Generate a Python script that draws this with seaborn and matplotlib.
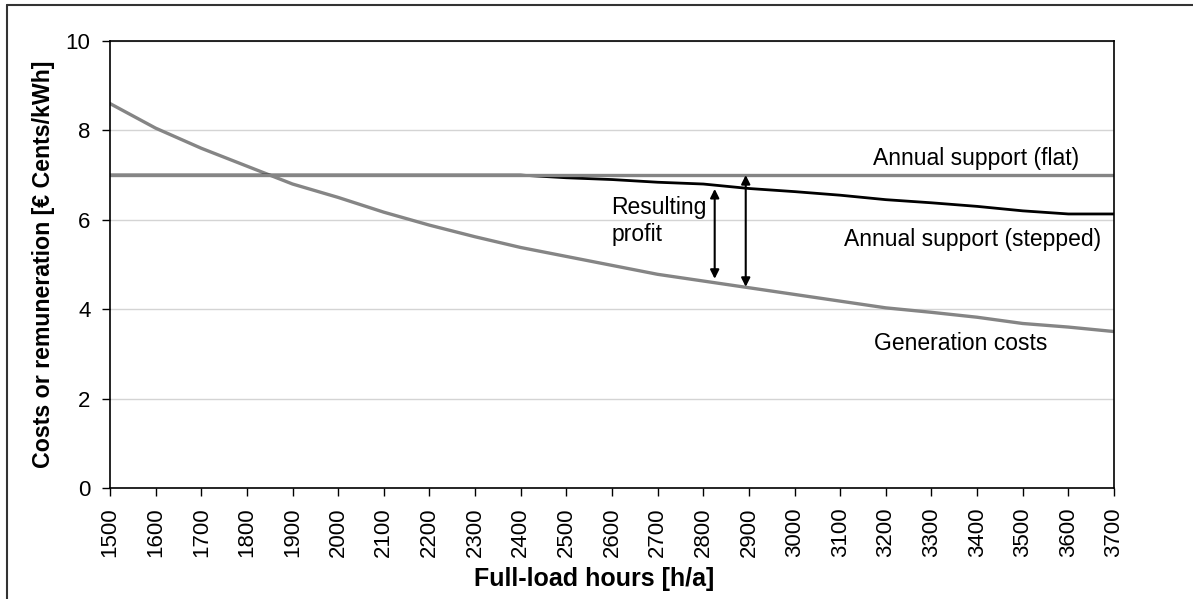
import numpy as np
import pandas as pd
import matplotlib
matplotlib.use("Agg")
import matplotlib.pyplot as plt
import seaborn as sns
from matplotlib.lines import Line2D

hours = [1500, 1600, 1700, 1800, 1900, 2000, 2100, 2200, 2300, 2400, 2500,
         2600, 2700, 2800, 2900, 3000, 3100, 3200, 3300, 3400, 3500, 3600, 3700]
support_flat = [7.0] * 23
support_stepped = [7.0, 7.0, 7.0, 7.0, 7.0, 7.0, 7.0, 7.0, 7.0, 7.0, 6.94,
                   6.9, 6.84, 6.8, 6.7, 6.63, 6.55, 6.45, 6.38, 6.3, 6.2, 6.13, 6.13]
generation_costs = [8.6, 8.05, 7.6, 7.2, 6.8, 6.5, 6.17, 5.88, 5.62, 5.38, 5.18,
                    4.98, 4.78, 4.63, 4.48, 4.33, 4.18, 4.03, 3.93, 3.82, 3.68, 3.6, 3.5]

sns.set_theme(style="white")
plt.rcParams['font.family'] = ['Liberation Sans', 'DejaVu Sans']
plt.rcParams['text.color'] = 'black'
plt.rcParams['axes.labelcolor'] = 'black'
plt.rcParams['xtick.color'] = 'black'
plt.rcParams['ytick.color'] = 'black'

fig = plt.figure(figsize=(11.93, 5.99), dpi=100)
ax = fig.add_axes([0.0922, 0.1853, 0.8416, 0.7463])

df = pd.DataFrame({"hours": hours, "flat": support_flat,
                   "stepped": support_stepped, "gen": generation_costs})

sns.lineplot(data=df, x="hours", y="gen", ax=ax, color="#858585", linewidth=2.4)
sns.lineplot(data=df, x="hours", y="stepped", ax=ax, color="black", linewidth=2.0)
sns.lineplot(data=df, x="hours", y="flat", ax=ax, color="#858585", linewidth=2.4)

ax.set_xlim(1500, 3700)
ax.set_ylim(0, 10)
ax.set_xticks(hours)
ax.set_xticklabels([str(h) for h in hours], rotation=90)
ax.set_yticks([0, 2, 4, 6, 8, 10])
ax.tick_params(axis='both', labelsize=16, direction='out', length=6, width=1,
               color='black', bottom=True, left=True, pad=8)
ax.yaxis.grid(True, color="#d4d4d4", linewidth=1)
ax.xaxis.grid(False)
for s in ax.spines.values():
    s.set_color("black")
    s.set_linewidth(1.2)

ax.set_xlabel("Full-load hours [h/a]", fontsize=18, fontweight="bold")
ax.xaxis.set_label_coords(0.482, -0.176)
ax.set_ylabel("Costs or remuneration [€ Cents/kWh]", fontsize=16.7, fontweight="bold", labelpad=8)

# Arrows
ax.annotate("", xy=(2825, 4.68), xytext=(2825, 6.69),
            arrowprops=dict(arrowstyle="<|-|>", color="black", lw=1.5,
                            mutation_scale=13, shrinkA=0, shrinkB=0))
ax.annotate("", xy=(2893, 4.5), xytext=(2893, 7.0),
            arrowprops=dict(arrowstyle="<|-|>", color="black", lw=1.5,
                            mutation_scale=13, shrinkA=0, shrinkB=0))

ax.text(2598, 5.97, "Resulting\nprofit", fontsize=16.5, ha="left", va="center",
        linespacing=1.2)
ax.text(3398, 7.38, "Annual support (flat)", fontsize=16.5, ha="center", va="center")
ax.text(3391, 5.57, "Annual support (stepped)", fontsize=16.5, ha="center", va="center")
ax.text(3365, 3.24, "Generation costs", fontsize=16.5, ha="center", va="center")

# Figure frame (top and left edges)
fig.add_artist(Line2D([7 / 1193, 1.0], [1 - 5 / 599, 1 - 5 / 599],
                      transform=fig.transFigure, color="#333333", linewidth=1.5))
fig.add_artist(Line2D([7 / 1193, 7 / 1193], [0.0, 1 - 5 / 599],
                      transform=fig.transFigure, color="#333333", linewidth=1.5))

fig.savefig("out.png", dpi=100, facecolor="white")
